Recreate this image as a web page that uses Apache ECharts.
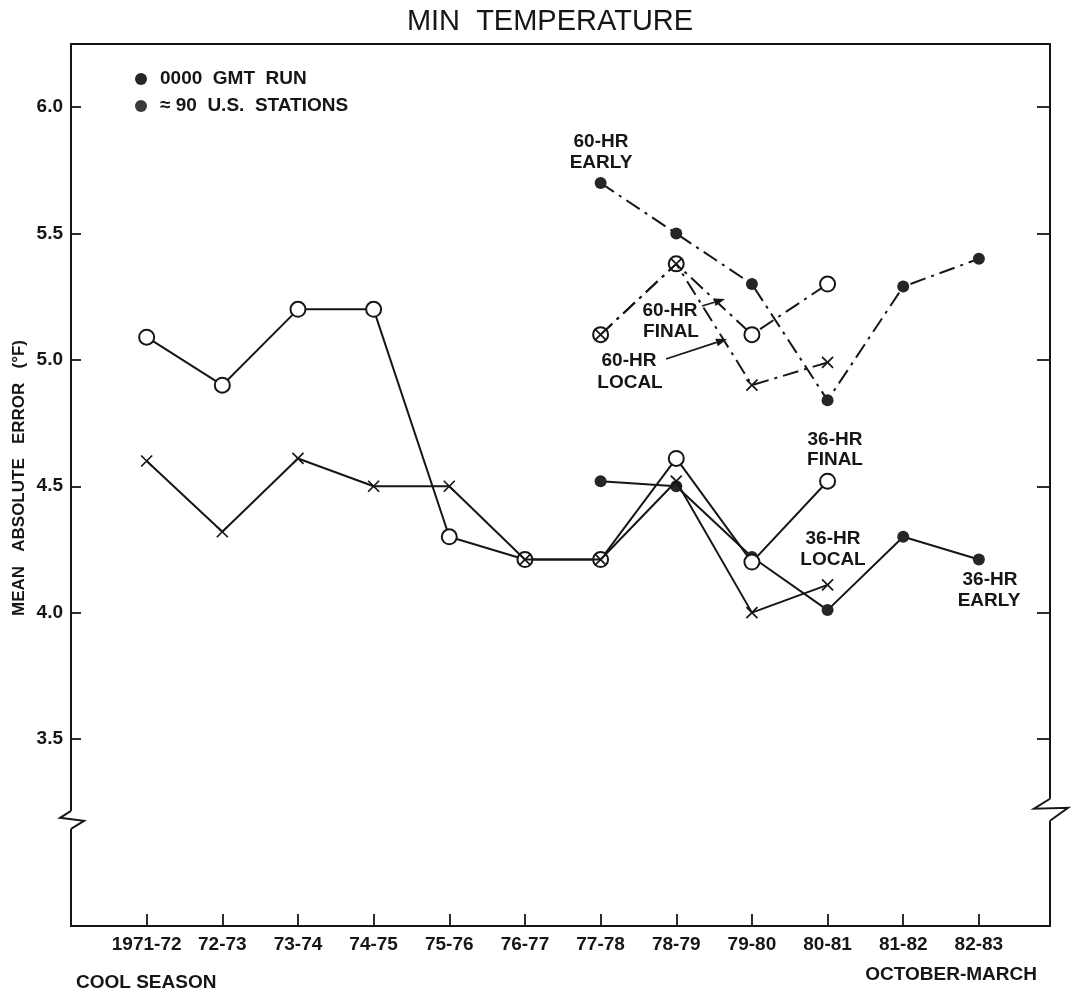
<!DOCTYPE html>
<html><head><meta charset="utf-8">
<script src="https://cdn.jsdelivr.net/npm/echarts@6/dist/echarts.min.js"></script>
<style>html,body{margin:0;padding:0;background:#fff}#c{width:1078px;height:998px}</style>
</head><body><div id="c"></div>
<script>
// ---- data ----
const seasons = ['1971-72','72-73','73-74','74-75','75-76','76-77','77-78','78-79','79-80','80-81','81-82','82-83'];
const yTicks = [3.5, 4.0, 4.5, 5.0, 5.5, 6.0];
const final36 = [5.09, 4.90, 5.20, 5.20, 4.30, 4.21, 4.21, 4.61, 4.20, 4.52, null, null];
const local36 = [4.60, 4.32, 4.61, 4.50, 4.50, 4.21, 4.21, 4.52, 4.00, 4.11, null, null];
const early36 = [null, null, null, null, null, null, 4.52, 4.50, 4.22, 4.01, 4.30, 4.21];
const early60 = [null, null, null, null, null, null, 5.70, 5.50, 5.30, 4.84, 5.29, 5.40];
const final60 = [null, null, null, null, null, null, 5.10, 5.38, 5.10, 5.30, null, null];
const local60 = [null, null, null, null, null, null, 5.10, 5.38, 4.90, 4.99, null, null];

const FONT = 'Liberation Sans, Arial, Helvetica, sans-serif';
const INK = '#161616';
const pairs = arr => arr.map((v, i) => [i, v]).filter(d => d[1] != null);
const xPath = 'path://M0,0L10,10M10,0L0,10';
const dashDot = [16, 6, 3, 6];

function lineSeries(name, arr, kind, dashed) {
  const s = {
    name, type: 'line', data: pairs(arr), xAxisIndex: 0, yAxisIndex: 0,
    lineStyle: { color: INK, width: 2, type: dashed ? dashDot : 'solid' },
    animation: false, z: 3
  };
  if (kind === 'open') {
    s.symbol = 'circle'; s.symbolSize = 15;
    s.itemStyle = { color: '#fff', borderColor: INK, borderWidth: 2 };
  } else if (kind === 'x') {
    s.symbol = xPath; s.symbolSize = 11;
    s.itemStyle = { color: 'rgba(0,0,0,0)', borderColor: INK, borderWidth: 1.7 };
    s.z = 4;
  } else {
    s.symbol = 'circle'; s.symbolSize = 12;
    s.itemStyle = { color: '#262626', borderColor: '#262626', borderWidth: 0 };
  }
  return s;
}

const chart = echarts.init(document.getElementById('c'));

const txt = (x, y, text, opt, extra) => Object.assign({
  type: 'text', x, y,
  style: Object.assign({ text, fill: INK, font: 'bold 19px ' + FONT, align: 'center', verticalAlign: 'middle' }, (opt || {}))
}, extra || {});

function arrow(x1, y1, x2, y2) {
  const a = Math.atan2(y2 - y1, x2 - x1), L = 11, W = 4;
  const bx = x2 - L * Math.cos(a), by = y2 - L * Math.sin(a);
  const px = -Math.sin(a) * W, py = Math.cos(a) * W;
  return [
    { type: 'line', shape: { x1, y1, x2: bx, y2: by }, style: { stroke: INK, lineWidth: 1.7 } },
    { type: 'polygon', shape: { points: [[x2, y2], [bx + px, by + py], [bx - px, by - py]] }, style: { fill: INK } }
  ];
}

const axisLineStyle = { color: INK, width: 2 };

chart.setOption({
  animation: false,
  backgroundColor: '#fff',
  grid: { left: 71, right: 28, top: 44, bottom: 72 },
  xAxis: [
    {
      type: 'value', min: -1, max: 11.94, position: 'bottom',
      axisLine: { show: true, lineStyle: axisLineStyle },
      axisTick: { show: true, inside: true, length: 12, lineStyle: { color: INK, width: 1.8 }, customValues: seasons.map((s, i) => i) },
      axisLabel: { show: true, customValues: seasons.map((s, i) => i), formatter: v => seasons[Math.round(v)] || '',
        color: INK, fontFamily: FONT, fontWeight: 'bold', fontSize: 19, margin: 9 },
      splitLine: { show: false }
    },
    {
      type: 'value', min: -1, max: 11.94, position: 'top',
      axisLine: { show: true, onZero: false, lineStyle: axisLineStyle },
      axisTick: { show: false }, axisLabel: { show: false }, splitLine: { show: false }
    }
  ],
  yAxis: [
    {
      type: 'value', min: 2.76, max: 6.25, position: 'left',
      axisLine: { show: true, onZero: false, lineStyle: axisLineStyle },
      axisTick: { show: true, inside: true, length: 10, lineStyle: { color: INK, width: 1.8 }, customValues: yTicks },
      axisLabel: { show: true, customValues: yTicks, formatter: v => v.toFixed(1),
        color: INK, fontFamily: FONT, fontWeight: 'bold', fontSize: 19, margin: 8 },
      splitLine: { show: false }
    },
    {
      type: 'value', min: 2.76, max: 6.25, position: 'right',
      axisLine: { show: true, onZero: false, lineStyle: axisLineStyle },
      axisTick: { show: true, inside: true, length: 13, lineStyle: { color: INK, width: 1.8 }, customValues: yTicks },
      axisLabel: { show: false }, splitLine: { show: false }
    }
  ],
  series: [
    lineSeries('36-HR EARLY', early36, 'dot', false),
    lineSeries('36-HR FINAL', final36, 'open', false),
    lineSeries('36-HR LOCAL', local36, 'x', false),
    lineSeries('60-HR EARLY', early60, 'dot', true),
    lineSeries('60-HR FINAL', final60, 'open', true),
    lineSeries('60-HR LOCAL', local60, 'x', true)
  ]
});

// annotations and axis breaks
const xl = chart.convertToPixel({ xAxisIndex: 0 }, -1);
const xr = chart.convertToPixel({ xAxisIndex: 0 }, 11.94);
const yb = chart.convertToPixel({ yAxisIndex: 0 }, 3.18);
const ybr = chart.convertToPixel({ yAxisIndex: 0 }, 3.22);

const g = [
  txt(550, 22, 'MIN  TEMPERATURE', { font: '29px ' + FONT }),
  txt(19, 478, 'MEAN   ABSOLUTE   ERROR   (°F)', { font: 'bold 17px ' + FONT }, { rotation: Math.PI / 2 }),
  { type: 'circle', shape: { cx: 141, cy: 79, r: 6 }, style: { fill: '#262626' } },
  { type: 'circle', shape: { cx: 141, cy: 106, r: 6 }, style: { fill: '#3a3a3a' } },
  txt(160, 79, '0000  GMT  RUN', { align: 'left' }),
  txt(160, 106, '≈ 90  U.S.  STATIONS', { align: 'left' }),
  txt(601, 142, '60-HR'), txt(601, 163, 'EARLY'),
  txt(670, 311, '60-HR'), txt(671, 332, 'FINAL'),
  txt(629, 361, '60-HR'), txt(630, 383, 'LOCAL'),
  txt(835, 440, '36-HR'), txt(835, 460, 'FINAL'),
  txt(833, 539, '36-HR'), txt(833, 560, 'LOCAL'),
  txt(990, 580, '36-HR'), txt(989, 601, 'EARLY'),
  txt(76, 983, 'COOL SEASON', { align: 'left' }),
  txt(1037, 975, 'OCTOBER-MARCH', { align: 'right' }),
  // left break
  { type: 'rect', shape: { x: xl - 3, y: yb - 9, width: 6, height: 18 }, style: { fill: '#fff' }, z: 100 },
  { type: 'polyline', shape: { points: [[xl, yb - 9], [xl - 11, yb - 2], [xl + 13, yb + 1], [xl, yb + 9]] }, style: { stroke: INK, lineWidth: 2, fill: null }, z: 101 },
  // right break
  { type: 'rect', shape: { x: xr - 3, y: ybr - 11, width: 6, height: 22 }, style: { fill: '#fff' }, z: 100 },
  { type: 'polyline', shape: { points: [[xr, ybr - 11], [xr - 16, ybr - 1], [xr + 18, ybr - 2], [xr, ybr + 11]] }, style: { stroke: INK, lineWidth: 2, fill: null }, z: 101 }
].concat(arrow(702, 306, 725, 299), arrow(666, 359, 727, 339));

chart.setOption({ graphic: g });
</script>
</body></html>
